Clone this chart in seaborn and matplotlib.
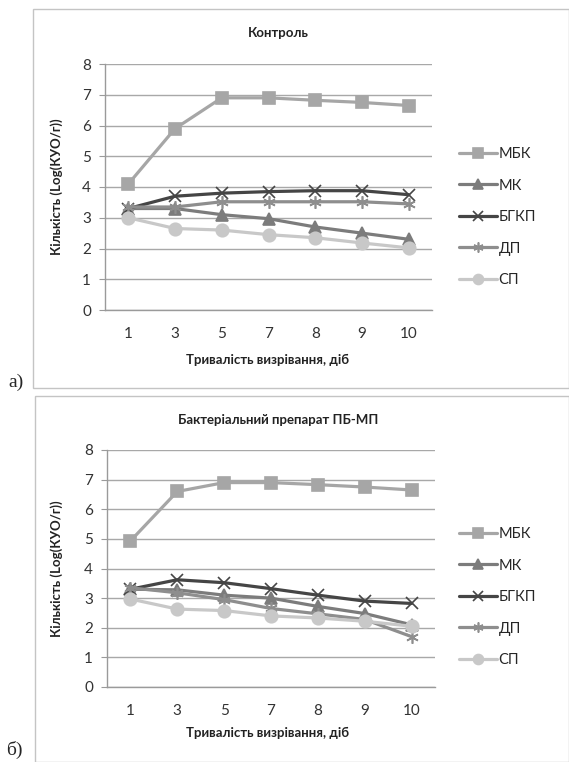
import matplotlib
matplotlib.use("Agg")
import matplotlib.pyplot as plt
import seaborn as sns
from matplotlib.patches import Rectangle

# data
days = ["1", "3", "5", "7", "8", "9", "10"]
series_names = ["МБК", "МК", "БГКП", "ДП", "СП"]

control_mbk = [4.1, 5.9, 6.9, 6.9, 6.82, 6.75, 6.65]
control_mk = [3.3, 3.3, 3.1, 2.97, 2.7, 2.5, 2.3]
control_bgkp = [3.3, 3.7, 3.8, 3.85, 3.88, 3.88, 3.75]
control_dp = [3.35, 3.35, 3.52, 3.52, 3.52, 3.52, 3.45]
control_sp = [3.0, 2.65, 2.6, 2.45, 2.35, 2.18, 2.02]

prep_mbk = [4.93, 6.6, 6.9, 6.9, 6.83, 6.75, 6.65]
prep_mk = [3.3, 3.28, 3.1, 3.0, 2.72, 2.48, 2.1]
prep_bgkp = [3.3, 3.62, 3.52, 3.32, 3.1, 2.9, 2.82]
prep_dp = [3.35, 3.18, 2.95, 2.65, 2.47, 2.28, 1.7]
prep_sp = [2.97, 2.63, 2.58, 2.4, 2.33, 2.22, 2.05]

colors = ["#a6a6a6", "#7c7c7c", "#454545", "#8e8e8e", "#c8c8c8"]
markers = ["s", "^", "x", (6, 2, 0), "o"]

sns.set_style("white")
plt.rcParams["font.family"] = ["Lato", "Noto Sans", "DejaVu Sans"]

W, H = 569, 762
fig = plt.figure(figsize=(W / 100, H / 100), dpi=100)


def fx(px):
    return px / W


def fy(py):
    return 1 - py / H


def draw_panel(ax, title, series, title_y, xlab_y, leg_y):
    pos = list(range(len(days)))
    for name, vals, c, m in zip(series_names, series, colors, markers):
        sns.lineplot(x=pos, y=vals, color=c, marker=m, markersize=9,
                     markeredgecolor=c, markeredgewidth=1.2, linewidth=2.3,
                     label=name, ax=ax)
    ax.set_xlim(-0.5, len(days) - 0.5)
    ax.set_ylim(0, 8)
    ax.set_yticks(range(0, 9))
    ax.set_xticks(pos)
    ax.set_xticklabels(days)
    ax.set_xticks([p - 0.5 for p in pos] + [len(days) - 0.5], minor=True)
    ax.tick_params(axis="x", which="major", length=0, pad=12, labelsize=11, colors="#333333")
    ax.tick_params(axis="x", which="minor", length=5, color="#9a9a9a", direction="out")
    ax.tick_params(axis="y", length=4, color="#9a9a9a", direction="out", pad=6,
                   labelsize=11, colors="#333333", left=True)
    ax.yaxis.grid(True, color="#a8a8a8", linewidth=1)
    ax.set_axisbelow(True)
    for s in ["top", "right"]:
        ax.spines[s].set_visible(False)
    for s in ["left", "bottom"]:
        ax.spines[s].set_color("#9a9a9a")
        ax.spines[s].set_linewidth(1)
    ax.set_xlabel("")
    ax.set_ylabel("")

    box = ax.get_position()
    fig.text(fx(278), fy(title_y), title, ha="center", va="center",
             fontsize=9.5, fontweight="bold", color="#222222")
    fig.text(fx(57), box.y0 + box.height / 2, "Кількість (Log(КУО/г))",
             rotation=90, ha="center", va="center", fontsize=9.5,
             fontweight="bold", color="#222222")
    fig.text(fx(268), fy(xlab_y), "Тривалість визрівання, діб", ha="center",
             va="center", fontsize=9.5, fontweight="bold", color="#222222")

    ax.legend(loc="center left", bbox_to_anchor=(fx(452), fy(leg_y)),
              bbox_transform=fig.transFigure, frameon=False, fontsize=10.5,
              handlelength=2.6, handletextpad=0.1, labelspacing=1.2,
              borderpad=0, markerscale=0.8)


# panel frames
fig.patches.append(Rectangle((fx(33), fy(388)), fx(536), 379 / H, transform=fig.transFigure,
                             fill=False, edgecolor="#c4c4c4", linewidth=1))
fig.patches.append(Rectangle((fx(35), fy(762)), fx(534), 366 / H, transform=fig.transFigure,
                             fill=False, edgecolor="#c4c4c4", linewidth=1))

ax1 = fig.add_axes([fx(105), fy(310), fx(327), 246 / H])
draw_panel(ax1, "Контроль",
           [control_mbk, control_mk, control_bgkp, control_dp, control_sp],
           33, 360, 217)

ax2 = fig.add_axes([fx(107), fy(687), fx(328), 237 / H])
draw_panel(ax2, "Бактеріальний препарат ПБ-МП",
           [prep_mbk, prep_mk, prep_bgkp, prep_dp, prep_sp],
           420, 733, 597)

fig.text(fx(8), fy(382), "а)", fontsize=14, family="Liberation Serif", va="center")
fig.text(fx(6), fy(750), "б)", fontsize=14, family="Liberation Serif", va="center")

fig.savefig("out.png", dpi=100)
